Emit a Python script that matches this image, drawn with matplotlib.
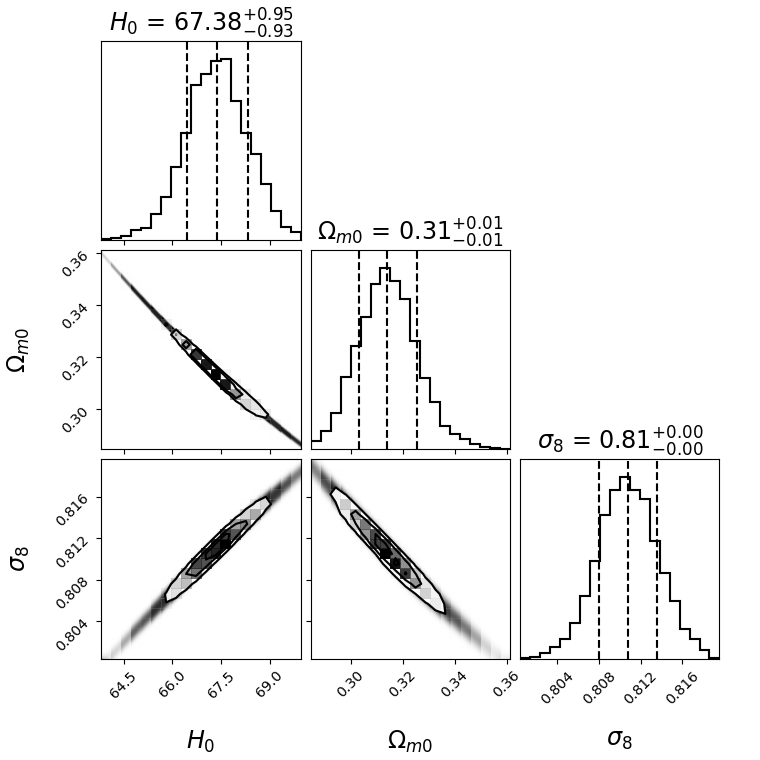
import numpy as np
import matplotlib
matplotlib.use("Agg")
import matplotlib.pyplot as plt
from matplotlib.colors import LinearSegmentedColormap
from matplotlib.ticker import FixedLocator, NullLocator

# parameter names and plot ranges (min / max of the chain)
labels = [r"$H_0$", r"$\Omega_{m0}$", r"$\sigma_8$"]
ranges = [(63.815, 69.96), (0.2847, 0.3613), (0.8004, 0.8196)]
ticks = [[64.5, 66.0, 67.5, 69.0],
         [0.30, 0.32, 0.34, 0.36],
         [0.804, 0.808, 0.812, 0.816]]
tick_labels = [["64.5", "66.0", "67.5", "69.0"],
               ["0.30", "0.32", "0.34", "0.36"],
               ["0.804", "0.808", "0.812", "0.816"]]

# 1D marginal histograms, 20 bins each (relative counts)
h0_counts = [2, 5, 12, 30, 35, 77, 130, 220, 322, 466,
             500, 538, 545, 418, 322, 257, 167, 87, 40, 23]
om_counts = [25, 55, 108, 218, 310, 398, 497, 545, 505, 453,
             327, 215, 142, 70, 45, 30, 17, 7, 3, 1]
s8_counts = [2, 6, 18, 35, 60, 108, 187, 295, 432, 507,
             545, 507, 480, 355, 258, 172, 88, 60, 27, 2]
counts = [h0_counts, om_counts, s8_counts]

# 16 / 50 / 84 percentiles
h0_q = [66.45, 67.38, 68.33]
om_q = [0.3031, 0.3142, 0.3256]
s8_q = [0.8080, 0.8108, 0.8136]
quantiles = [h0_q, om_q, s8_q]

# ridge line of each 2D cloud (x values, y values) and its spread in y
ridge_h0_om = ([64.06, 66.06, 67.35, 68.79, 69.87],
               [0.3563, 0.3299, 0.3134, 0.2981, 0.2874])
ridge_h0_s8 = ([64.12, 67.35, 69.96], [0.80066, 0.81096, 0.81838])
ridge_om_s8 = ([0.2858, 0.3142, 0.3563], [0.81867, 0.81068, 0.80066])
width_h0_om = 0.0006
width_h0_s8 = 0.00042
width_om_s8 = 0.00056
pairs = {(1, 0): (ridge_h0_om, width_h0_om),
         (2, 0): (ridge_h0_s8, width_h0_s8),
         (2, 1): (ridge_om_s8, width_om_s8)}

N_SAMPLES = 25000
DOT_AREA = 6.0
FS = 17
LABELPAD = 0.05


def hist2d_panel(ax, xcounts, xr, yr, ridge, width):
    nb = len(xcounts)
    sub = 10
    nf = nb * sub
    xe = np.linspace(xr[0], xr[1], nf + 1)
    ye = np.linspace(yr[0], yr[1], nf + 1)
    xc = 0.5 * (xe[1:] + xe[:-1])
    yc = 0.5 * (ye[1:] + ye[:-1])
    px = np.repeat(np.asarray(xcounts, float), sub)
    coef = np.polyfit(ridge[0], ridge[1], 2)
    mid = np.polyval(coef, xc)
    g = np.exp(-0.5 * ((yc[None, :] - mid[:, None]) / width) ** 2)
    g /= g.sum(axis=1, keepdims=True)
    p = px[:, None] * g
    p /= p.sum()

    # cloud of sample points (alpha 0.1 dots piling up)
    n = N_SAMPLES * p * DOT_AREA
    alpha = 1.0 - 0.9 ** n
    rgba = np.zeros((nf, nf, 4))
    rgba[..., 3] = alpha.T
    ax.imshow(rgba, origin="lower", extent=(xr[0], xr[1], yr[0], yr[1]),
              aspect="auto", interpolation="bilinear", zorder=0)

    # coarse 2D histogram, corner style
    H = p.reshape(nb, sub, nb, sub).sum(axis=(1, 3))
    X = np.linspace(xr[0], xr[1], nb + 1)
    Y = np.linspace(yr[0], yr[1], nb + 1)
    levels = 1.0 - np.exp(-0.5 * np.arange(0.5, 2.1, 0.5) ** 2)
    Hflat = np.sort(H.flatten())[::-1]
    sm = np.cumsum(Hflat)
    sm /= sm[-1]
    V = np.empty(len(levels))
    for i, v0 in enumerate(levels):
        try:
            V[i] = Hflat[sm <= v0][-1]
        except IndexError:
            V[i] = Hflat[0]
    V.sort()

    X1, Y1 = 0.5 * (X[1:] + X[:-1]), 0.5 * (Y[1:] + Y[:-1])
    H2 = H.min() + np.zeros((H.shape[0] + 4, H.shape[1] + 4))
    H2[2:-2, 2:-2] = H
    H2[2:-2, 1] = H[:, 0]
    H2[2:-2, -2] = H[:, -1]
    H2[1, 2:-2] = H[0]
    H2[-2, 2:-2] = H[-1]
    H2[1, 1] = H[0, 0]
    H2[1, -2] = H[0, -1]
    H2[-2, 1] = H[-1, 0]
    H2[-2, -2] = H[-1, -1]
    X2 = np.concatenate([X1[0] + np.array([-2, -1]) * np.diff(X1[:2]), X1,
                         X1[-1] + np.array([1, 2]) * np.diff(X1[-2:])])
    Y2 = np.concatenate([Y1[0] + np.array([-2, -1]) * np.diff(Y1[:2]), Y1,
                         Y1[-1] + np.array([1, 2]) * np.diff(Y1[-2:])])

    white_cmap = LinearSegmentedColormap.from_list("white_cmap", [(1, 1, 1), (1, 1, 1)], N=2)
    density_cmap = LinearSegmentedColormap.from_list("density_cmap", ["k", (1, 1, 1, 0)])
    ax.contourf(X2, Y2, H2.T, [V.min(), H.max()], cmap=white_cmap, antialiased=False)
    ax.pcolor(X, Y, H.max() - H.T, cmap=density_cmap)
    ax.contour(X2, Y2, H2.T, V, colors="k", linewidths=1.5)


fig, axes = plt.subplots(3, 3, figsize=(7.5, 7.5), dpi=760 / 7.5)
fig.subplots_adjust(left=1.0 / 7.5, bottom=1.0 / 7.5, right=1 - 0.4 / 7.5,
                    top=1 - 0.4 / 7.5, wspace=0.05, hspace=0.05)

K = 3
for i in range(K):
    for j in range(K):
        ax = axes[i, j]
        if j > i:
            ax.set_frame_on(False)
            ax.set_xticks([])
            ax.set_yticks([])
            continue

        if i == j:
            edges = np.linspace(ranges[i][0], ranges[i][1], len(counts[i]) + 1)
            centers = 0.5 * (edges[1:] + edges[:-1])
            ax.hist(centers, bins=edges, weights=counts[i], histtype="step", color="k", lw=1.5)
            for q in quantiles[i]:
                ax.axvline(q, ls="dashed", color="k", lw=1.5)
            med, lo, hi = quantiles[i][1], quantiles[i][0], quantiles[i][2]
            title = r"${0:.2f}_{{-{1:.2f}}}^{{+{2:.2f}}}$".format(med, med - lo, hi - med)
            ax.set_title("{0} = {1}".format(labels[i], title), fontsize=FS)
            ax.set_ylim(0, 1.1 * max(counts[i]))
            ax.yaxis.set_major_locator(NullLocator())
        else:
            ridge, width = pairs[(i, j)]
            hist2d_panel(ax, counts[j], ranges[j], ranges[i], ridge, width)
            ax.set_ylim(ranges[i])
            ax.yaxis.set_major_locator(FixedLocator(ticks[i]))
            if j == 0:
                ax.set_yticklabels(tick_labels[i], rotation=45)
                ax.set_ylabel(labels[i], fontsize=FS)
                ax.yaxis.set_label_coords(-0.3 - LABELPAD, 0.5)
            else:
                ax.set_yticklabels([])

        ax.set_xlim(ranges[j])
        ax.xaxis.set_major_locator(FixedLocator(ticks[j]))
        if i == K - 1:
            ax.set_xticklabels(tick_labels[j], rotation=45)
            ax.set_xlabel(labels[j], fontsize=FS)
            ax.xaxis.set_label_coords(0.5, -0.3 - LABELPAD)
        else:
            ax.set_xticklabels([])

fig.savefig("out.png", dpi=760 / 7.5)
